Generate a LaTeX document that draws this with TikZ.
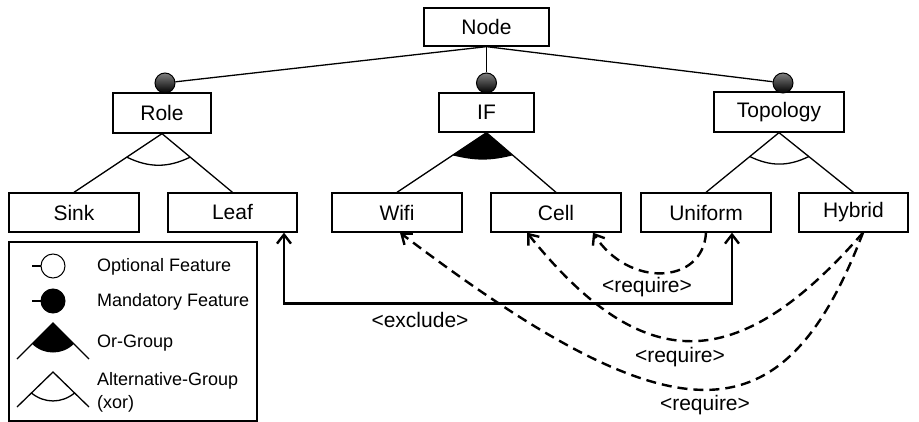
\documentclass[tikz,border=0pt]{standalone}
\usepackage{fontspec}
\setmainfont{Liberation Sans}
\usetikzlibrary{arrows.meta,calc}
\begin{document}
\begin{tikzpicture}[x=1pt,y=-1pt,
  feat/.style={draw, line width=1.3pt, minimum height=39pt, inner sep=0pt, font=\fontsize{21}{25}\selectfont},
  mand/.style={circle, draw, line width=1pt, minimum size=20pt, inner sep=0pt, top color=black!50, bottom color=black},
  tree/.style={line width=1.3pt},
  barb/.tip={Straight Barb[length=9pt,width=14pt]},
  excl/.style={line width=2.4pt, barb-barb},
  req/.style={line width=2.4pt, dash pattern=on 10pt off 6pt, -barb},
  lbl/.style={font=\fontsize{21}{25}\selectfont, inner sep=0pt},
  leg/.style={font=\fontsize{18}{23}\selectfont, anchor=west, align=left, inner sep=0pt}
]
\useasboundingbox (0,0) rectangle (919,422);

% feature nodes
\node[feat, minimum width=125pt, minimum height=38pt] (node) at (486.5,27) {Node};
\node[feat, minimum width=98pt, minimum height=40pt] (role) at (162,113) {Role};
\node[feat, minimum width=95pt] (if) at (486.5,112.5) {IF};
\node[feat, minimum width=130pt, minimum height=40pt] (topo) at (779,112) {Topology};
\node[feat, minimum width=130pt] (sink) at (74,212.5) {Sink};
\node[feat, minimum width=129pt] (leaf) at (232.5,212.5) {Leaf};
\node[feat, minimum width=130pt] (wifi) at (397,212.5) {Wifi};
\node[feat, minimum width=130pt] (cell) at (556,212.5) {Cell};
\node[feat, minimum width=130pt] (unif) at (706,212.5) {Uniform};
\node[feat, minimum width=109pt] (hyb) at (853.5,212.5) {Hybrid};

% mandatory circles
\node[mand] (m1) at (165,83) {};
\node[mand] (m2) at (486.5,83) {};
\node[mand] (m3) at (783,83) {};
\draw[tree] (node.south) -- (m1);
\draw[tree] (node.south) -- (m2);
\draw[tree] (node.south) -- (m3);

% Role: alternative group
\draw[tree] (role.south) -- (sink.north);
\draw[tree] (role.south) -- (leaf.north);
\coordinate (ral) at ($(role.south)!0.4!(sink.north)$);
\coordinate (rar) at ($(role.south)!0.4!(leaf.north)$);
\draw[tree] (ral) to[bend right=26] (rar);

% IF: or group
\draw[tree] (if.south) -- (wifi.north);
\draw[tree] (if.south) -- (cell.north);
\coordinate (ial) at ($(if.south)!0.38!(wifi.north)$);
\coordinate (iar) at ($(if.south)!0.38!(cell.north)$);
\fill (if.south) -- (ial) to[bend right=14] (iar) -- cycle;

% Topology: alternative group
\draw[tree] (topo.south) -- (unif.north);
\draw[tree] (topo.south) -- (hyb.north);
\coordinate (tal) at ($(topo.south)!0.4!(unif.north)$);
\coordinate (tar) at ($(topo.south)!0.4!(hyb.north)$);
\draw[tree] (tal) to[bend right=26] (tar);

% exclude
\draw[excl] ([xshift=51.5pt]leaf.south) -- ++(0,71) -| ([xshift=26pt]unif.south);
\node[lbl] (lex) at (420,320) {<exclude>};

% requires
\draw[req] (unif.south) .. controls (703,285) and (628,288) .. ([xshift=37pt]cell.south);
\node[lbl] (lr1) at (647,287) {<require>};
\draw[req] ([xshift=9.5pt]hyb.south) .. controls (737,377) and (643,377) .. ([xshift=-29pt]cell.south);
\node[lbl] (lr2) at (680,357) {<require>};
\draw[req] ([xshift=9.5pt]hyb.south) .. controls (783,442) and (676,442) .. ([xshift=3pt]wifi.south);
\node[lbl] (lr3) at (705,405) {<require>};

% legend
\node[draw, line width=1.3pt, minimum width=248pt, minimum height=179pt, inner sep=0pt] (legend) at (133,331.5) {};
\node[circle, draw, line width=1pt, fill=white, minimum size=24pt, inner sep=0pt] (lopt) at (53,266) {};
\draw[tree] (lopt.west) -- ++(-9,0);
\node[leg] (topt) at (97,267) {Optional Feature};
\node[circle, draw, line width=1pt, fill=black, minimum size=24pt, inner sep=0pt] (lman) at (53,301) {};
\draw[tree] (lman.west) -- ++(-9,0);
\node[leg] (tman) at (97,302) {Mandatory Feature};
\coordinate (ora) at (53,323);
\coordinate (orl) at (17,359);
\coordinate (orr) at (89,359);
\coordinate (oal) at ($(ora)!0.58!(orl)$);
\coordinate (oar) at ($(ora)!0.58!(orr)$);
\fill (ora) -- (oal) to[bend right=45] (oar) -- cycle;
\draw[tree] (orl) -- (ora) -- (orr);
\node[leg] (tor) at (97,343) {Or-Group};
\coordinate (ala) at (53,372);
\coordinate (all) at (17,407);
\coordinate (alr) at (89,407);
\coordinate (aal) at ($(ala)!0.6!(all)$);
\coordinate (aar) at ($(ala)!0.6!(alr)$);
\draw[tree] (aal) to[bend right=39] (aar);
\draw[tree] (all) -- (ala) -- (alr);
\node[leg] (talt) at (97,392) {Alternative-Group\\(xor)};
\end{tikzpicture}
\end{document}
